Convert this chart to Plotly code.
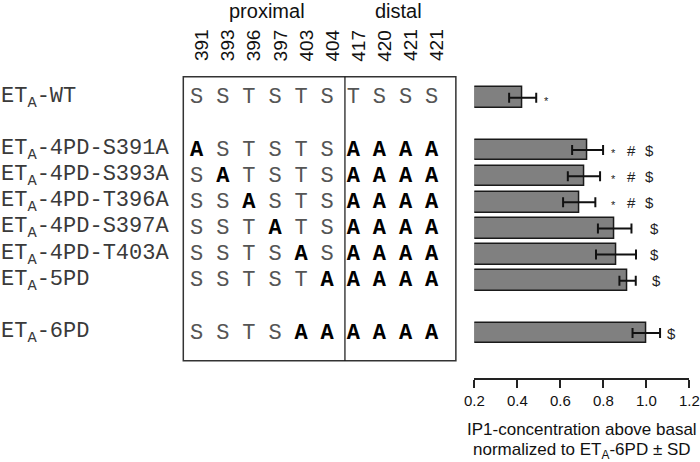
import plotly.graph_objects as go

# ---------------- data ----------------
constructs = ["ET<sub>A</sub>-WT", "ET<sub>A</sub>-4PD-S391A", "ET<sub>A</sub>-4PD-S393A",
              "ET<sub>A</sub>-4PD-T396A", "ET<sub>A</sub>-4PD-S397A", "ET<sub>A</sub>-4PD-T403A",
              "ET<sub>A</sub>-5PD", "ET<sub>A</sub>-6PD"]
row_index = [0, 2, 3, 4, 5, 6, 7, 9]
positions = ["391", "393", "396", "397", "403", "404", "417", "420", "421", "421"]
sequences = ["SSTSTSTSSS", "ASTSTSAAAA", "SATSTSAAAA", "SSASTSAAAA",
             "SSTATSAAAA", "SSTSASAAAA", "SSTSTAAAAA", "SSTSAAAAAA"]
means = [0.425, 0.727, 0.710, 0.688, 0.853, 0.859, 0.913, 1.000]
sds = [0.063, 0.072, 0.075, 0.075, 0.078, 0.093, 0.038, 0.064]
significance = [["*"], ["*", "#", "$"], ["*", "#", "$"], ["*", "#", "$"],
                ["$"], ["$"], ["$"], ["$"]]
xticks = [0.2, 0.4, 0.6, 0.8, 1.0, 1.2]
xtick_labels = ["0.2", "0.4", "0.6", "0.8", "1.0", "1.2"]
region_names = ["proximal", "distal"]
axis_title = ["IP1-concentration above basal", "normalized to ET<sub>A</sub>-6PD ± SD"]

# ---------------- styling / placement ----------------
MONO = "Liberation Mono, Courier New, monospace"
SANS = "Liberation Sans, Arial, sans-serif"
BASE = 0.2
W, H, B = 700, 462, 84
# x positions (data units) for significance symbols, per row
sig_pos = [[0.538], [0.846, 0.929, 1.016], [0.846, 0.929, 1.016], [0.846, 0.929, 1.016],
           [1.037], [1.040], [1.048], [1.119]]

fig = go.Figure()

fig.add_trace(go.Bar(
    y=row_index, x=[m - BASE for m in means], base=BASE, orientation="h",
    width=0.79,
    marker=dict(color="#808080", line=dict(color="#1a1a1a", width=1.5)),
    error_x=dict(type="data", array=sds, color="#111111", thickness=2, width=5),
    xaxis="x", yaxis="y", showlegend=False, hoverinfo="skip",
))

# sequence letters (regular and mutated/bold as separate traces)
rx, ry, rt, bx, by, bt = [], [], [], [], [], []
for r, seq in zip(row_index, sequences):
    for k, ch in enumerate(seq):
        if ch == "A":
            bx.append(k); by.append(r); bt.append(f"<b>{ch}</b>")
        else:
            rx.append(k); ry.append(r); rt.append(ch)
fig.add_trace(go.Scatter(
    x=rx, y=ry, text=rt, mode="text", xaxis="x2", yaxis="y",
    textfont=dict(family=MONO, size=22, color="#555555"),
    showlegend=False, hoverinfo="skip", cliponaxis=False,
))
fig.add_trace(go.Scatter(
    x=bx, y=by, text=bt, mode="text", xaxis="x2", yaxis="y",
    textfont=dict(family=MONO, size=22, color="#000000"),
    showlegend=False, hoverinfo="skip", cliponaxis=False,
))

ann = []
for lab, r in zip(constructs, row_index):
    ann.append(dict(x=-7.5, y=r, xref="x2", yref="y", text=lab, showarrow=False,
                    xanchor="left", yanchor="middle", xshift=-2,
                    font=dict(family=MONO, size=22, color="#3a3a3a")))
for k, p in enumerate(positions):
    ann.append(dict(x=k, y=-2.0, xref="x2", yref="y", text=p, showarrow=False,
                    textangle=-90, xshift=5,
                    font=dict(family=SANS, size=19, color="#111111")))
ann.append(dict(x=2.68, y=-3.3, xref="x2", yref="y", text=region_names[0], showarrow=False,
                font=dict(family=SANS, size=20, color="#111111")))
ann.append(dict(x=7.74, y=-3.3, xref="x2", yref="y", text=region_names[1], showarrow=False,
                font=dict(family=SANS, size=20, color="#111111")))
for r, syms, xs in zip(row_index, significance, sig_pos):
    for s, xp in zip(syms, xs):
        if s == "*":
            ann.append(dict(x=xp, y=r, xref="x", yref="y", text=s, showarrow=False,
                            yshift=-3, font=dict(family=SANS, size=11, color="#222222")))
        else:
            ann.append(dict(x=xp, y=r, xref="x", yref="y", text=s, showarrow=False,
                            font=dict(family=SANS, size=15, color="#222222")))
# two title lines below the x axis (pixel rows -> paper units)
for txt, py in zip(axis_title, [429, 451]):
    ann.append(dict(x=0.5, y=-(py - (H - B)) / (H - B), xref="x domain", yref="paper",
                    text=txt, showarrow=False, yanchor="middle", borderpad=0,
                    font=dict(family=SANS, size=17, color="#111111")))

shapes = [
    dict(type="rect", xref="x2", yref="y", x0=-0.513, x1=9.93, y0=-0.80, y1=10.06,
         line=dict(color="#333333", width=1.5)),
    dict(type="line", xref="x2", yref="y", x0=5.68, x1=5.68, y0=-0.80, y1=10.06,
         line=dict(color="#111111", width=1.2)),
]

fig.update_layout(
    width=W, height=H,
    margin=dict(l=0, r=0, t=0, b=B, autoexpand=False),
    paper_bgcolor="white", plot_bgcolor="white",
    xaxis=dict(domain=[474.3 / W, 689.3 / W], range=[0.2, 1.2], tickvals=xticks,
               ticktext=xtick_labels, showline=True, linewidth=2, linecolor="#222222",
               ticks="outside", ticklen=8, tickwidth=2, tickcolor="#222222",
               showgrid=False, zeroline=False, anchor="y", automargin=False,
               tickfont=dict(family=SANS, size=15, color="#111111")),
    xaxis2=dict(domain=[0, 0.67], range=[-7.536, 10.433], visible=False, anchor="y",
                automargin=False),
    yaxis=dict(range=[10.719, -3.736], visible=False, domain=[0, 1], automargin=False),
    annotations=ann, shapes=shapes,
    bargap=0,
)

fig.write_html("out.html", config={"displayModeBar": False},
               post_script="document.body.style.margin='0px';")
